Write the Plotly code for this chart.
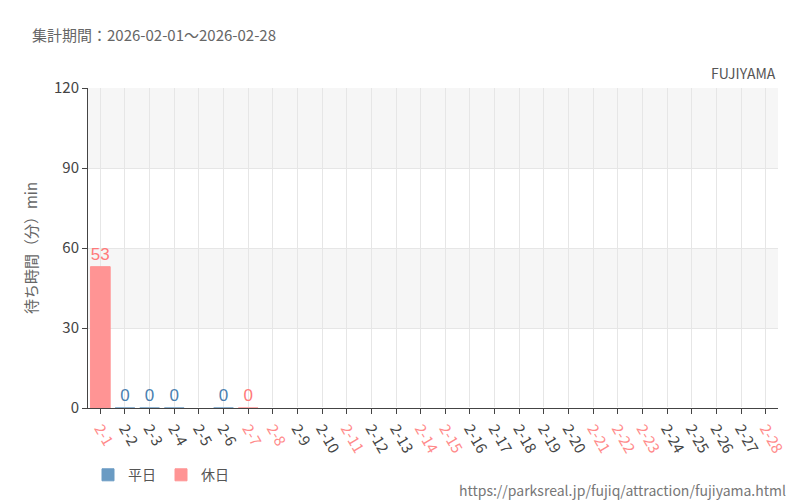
import plotly.graph_objects as go

days = [f"2-{d}" for d in range(1, 29)]
holidays = ["2-1","2-7","2-8","2-11","2-14","2-15","2-21","2-22","2-23","2-28"]
weekday_vals = {"2-2": 0, "2-3": 0, "2-4": 0, "2-6": 0}
holiday_vals = {"2-1": 53, "2-7": 0}

wk = [weekday_vals.get(d) for d in days]
hd = [holiday_vals.get(d) for d in days]

fig = go.Figure()
for name, vals, col, tcol in [("平日", wk, "#6a9bc3", "#4a7fb0"), ("休日", hd, "#ff9494", "#ff7a7a")]:
    fig.add_trace(go.Bar(x=days, y=vals, name=name, marker=dict(color=col, line=dict(color=col, width=1)),
                         text=[("" if v is None else str(v)) for v in vals], textposition="outside",
                         textfont=dict(color=tcol, size=17, family="Liberation Sans Narrow, sans-serif"),
                         cliponaxis=False, width=0.8))

for y0 in (30, 90):
    fig.add_shape(type="rect", xref="paper", yref="y", x0=0, x1=1, y0=y0, y1=y0+30,
                  fillcolor="#f6f6f6", line_width=0, layer="below")

ticktext = [f'<span style="color:#ff8a8a">{d}</span>' if d in holidays else d for d in days]

fig.update_layout(
    width=800, height=500, barmode="overlay", plot_bgcolor="white", paper_bgcolor="white",
    margin=dict(l=80, r=30, t=80, b=100, autoexpand=False),
    font=dict(family="Noto Sans CJK JP, Noto Sans, sans-serif", color="#555"),
    title=dict(text="集計期間：2026-02-01～2026-02-28", x=0.03, y=0.955, xanchor="left", font=dict(size=15, color="#666")),
    legend=dict(orientation="h", x=0.0, y=-0.21, xanchor="left", yanchor="middle", font=dict(size=14)),
    bargap=0.2,
    xaxis=dict(tickvals=days, ticktext=ticktext, tickangle=60, tickfont=dict(size=15, color="#444"),
               showgrid=True, gridcolor="#e6e6e6", ticks="outside", ticklen=5, tickcolor="#444",
               showline=True, linecolor="#444", range=[-0.5, 27.5], automargin=False),
    yaxis=dict(range=[0, 120], tickvals=[0, 30, 60, 90, 120], gridcolor="#e6e6e6", showline=True,
               linecolor="#444", ticks="outside", ticklen=5, tickcolor="#444", tickfont=dict(size=15, color="#444"),
               automargin=False,
               title=dict(text="待ち時間（分）min", font=dict(size=15, color="#666"), standoff=12)),
    annotations=[
        dict(text="FUJIYAMA", xref="paper", yref="paper", x=1, y=1.01, xanchor="right", yanchor="bottom",
             showarrow=False, font=dict(size=14, color="#555")),
        dict(text="https://parksreal.jp/fujiq/attraction/fujiyama.html", xref="paper", yref="paper", x=1.015, y=-0.255,
             xanchor="right", yanchor="middle", showarrow=False, font=dict(size=14, color="#777")),
    ],
)
fig.write_html("out.html")
